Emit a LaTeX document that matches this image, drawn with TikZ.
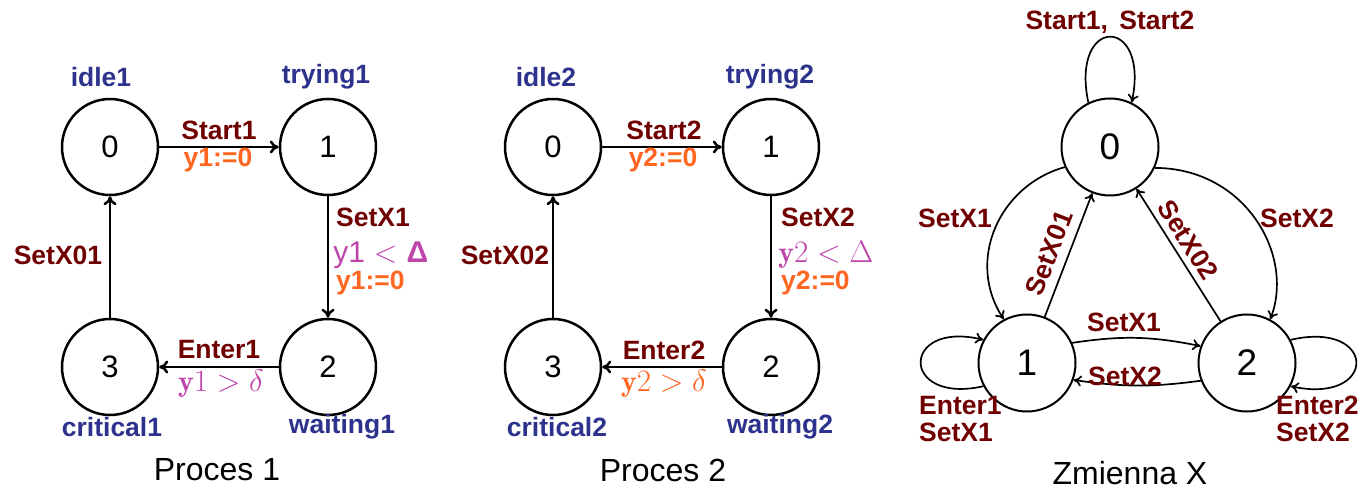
\documentclass[tikz,border=0pt]{standalone}
\usepackage{fontspec}
\setsansfont{Liberation Sans}
\usetikzlibrary{arrows.meta}
\definecolor{maroon}{RGB}{112,0,0}
\definecolor{orng}{RGB}{255,102,34}
\definecolor{magen}{RGB}{190,70,170}
\definecolor{stblue}{RGB}{45,50,140}
\tikzset{
  state/.style={circle,draw,line width=2.5pt,minimum size=96pt,inner sep=0pt,font=\sffamily\fontsize{31}{31}\selectfont},
  bstate/.style={circle,draw,line width=2pt,minimum size=97pt,inner sep=0pt,font=\sffamily\fontsize{37}{37}\selectfont},
  edge/.style={line width=2.5pt,-{To[length=9pt,width=13pt]}},
  tedge/.style={line width=1.7pt,-{To[length=8pt,width=11pt]}},
  act/.style={text=maroon,font=\sffamily\bfseries\fontsize{26.5}{28}\selectfont,inner sep=0pt},
  upd/.style={text=orng,font=\sffamily\bfseries\fontsize{26.5}{28}\selectfont,inner sep=0pt},
  grd/.style={text=magen,font=\fontsize{24}{26}\selectfont,inner sep=0pt,scale=1.25},
  loc/.style={text=stblue,font=\sffamily\bfseries\fontsize{26.5}{28}\selectfont,inner sep=0pt},
  captxt/.style={font=\sffamily\fontsize{32}{34}\selectfont,inner sep=0pt}
}
\begin{document}
\begin{tikzpicture}[x=1pt,y=1pt]
\useasboundingbox (0,0) rectangle (1363,490);
% ---------- Proces 1 ----------
\node[state] (a0) at (110,343) {0};
\node[state] (a1) at (328,343) {1};
\node[state] (a2) at (328,123) {2};
\node[state] (a3) at (110,123) {3};
\draw[edge] (a0) -- (a1);
\draw[edge] (a1) -- (a2);
\draw[edge] (a2) -- (a3);
\draw[edge] (a3) -- (a0);
\node[loc] (la0) at (101,413) {idle1};
\node[loc] (la1) at (326,413) {trying1};
\node[loc] (la3) at (112,63) {critical1};
\node[loc] (la2) at (342,63) {waiting1};
\node[act] (ea1) at (219,360) {Start1};
\node[upd] (ea2) at (218,330) {y1:=0};
\node[act,anchor=west] (eb1) at (336,273) {SetX1};
\node[grd,anchor=west] (eb2) at (333,235) {\textsf{y1} $<$ \textsf{\textbf{Δ}}};
\node[upd,anchor=west] (eb3) at (336,207) {y1:=0};
\node[act] (ec1) at (219,140) {Enter1};
\node[grd] (ec2) at (221,106) {$\mathbf{y}1>\delta$};
\node[act] (ed1) at (58,235) {SetX01};
\node[captxt] (c1) at (217,20) {Proces 1};
% ---------- Proces 2 ----------
\node[state] (b0) at (553,343) {0};
\node[state] (b1) at (771,343) {1};
\node[state] (b2) at (771,123) {2};
\node[state] (b3) at (553,123) {3};
\draw[edge] (b0) -- (b1);
\draw[edge] (b1) -- (b2);
\draw[edge] (b2) -- (b3);
\draw[edge] (b3) -- (b0);
\node[loc] (lb0) at (546,413) {idle2};
\node[loc] (lb1) at (770,413) {trying2};
\node[loc] (lb3) at (557,63) {critical2};
\node[loc] (lb2) at (780,63) {waiting2};
\node[act] (fa1) at (664,360) {Start2};
\node[upd] (fa2) at (663,330) {y2:=0};
\node[act,anchor=west] (fb1) at (781,273) {SetX2};
\node[grd,anchor=west] (fb2) at (778,235) {$\mathbf{y}2<\Delta$};
\node[upd,anchor=west] (fb3) at (781,207) {y2:=0};
\node[act] (fc1) at (664,140) {Enter2};
\node[grd,text=orng] (fc2) at (664,106) {$\mathbf{y}2>\delta$};
\node[act] (fd1) at (505,235) {SetX02};
\node[captxt] (c2) at (663,20) {Proces 2};
% ---------- Zmienna X ----------
\node[bstate] (x0) at (1110,343) {0};
\node[bstate] (x1) at (1027,127) {1};
\node[bstate] (x2) at (1247,127) {2};
% loops
\draw[tedge] (x0.116) .. controls (1070,475) and (1150,475) .. (x0.64);
\draw[tedge] (x1.208) .. controls (900,85) and (900,170) .. (x1.152);
\draw[tedge] (x2.28) .. controls (1378,170) and (1378,85) .. (x2.-28);
% curved 0->1, 0->2
\draw[tedge] (x0.204) .. controls (1000,305) and (965,230) .. (x1.118);
\draw[tedge] (x0.-25) .. controls (1245,322) and (1295,235) .. (x2.62);
% straight 1->0, 2->0
\draw[tedge] (x1) -- (x0);
\draw[tedge] (x2) -- (x0);
% 1 <-> 2
\draw[tedge] (x1.24) to[bend left=10] (x2.160);
\draw[tedge] (x2.201) to[bend left=8] (x1.-20);
\node[act] (g0) at (1110,468) {Start1,\hspace{0.15em} Start2};
\node[act] (g1) at (955,272) {SetX1};
\node[act] (g2) at (1297,272) {SetX2};
\node[act,rotate=69] (g3) at (1049,237) {SetX01};
\node[act,rotate=-57.6] (g4) at (1188,250) {SetX02};
\node[act] (g5) at (1124,168) {SetX1};
\node[act] (g6) at (1125,114) {SetX2};
\node[act,anchor=north west,align=left,font=\sffamily\bfseries\fontsize{26.5}{27}\selectfont] (g7) at (919,94) {Enter1\\SetX1};
\node[act,anchor=north west,align=left,font=\sffamily\bfseries\fontsize{26.5}{27}\selectfont] (g8) at (1276,94) {Enter2\\SetX2};
\node[captxt] (c3) at (1130,17) {Zmienna X};
\end{tikzpicture}
\end{document}
